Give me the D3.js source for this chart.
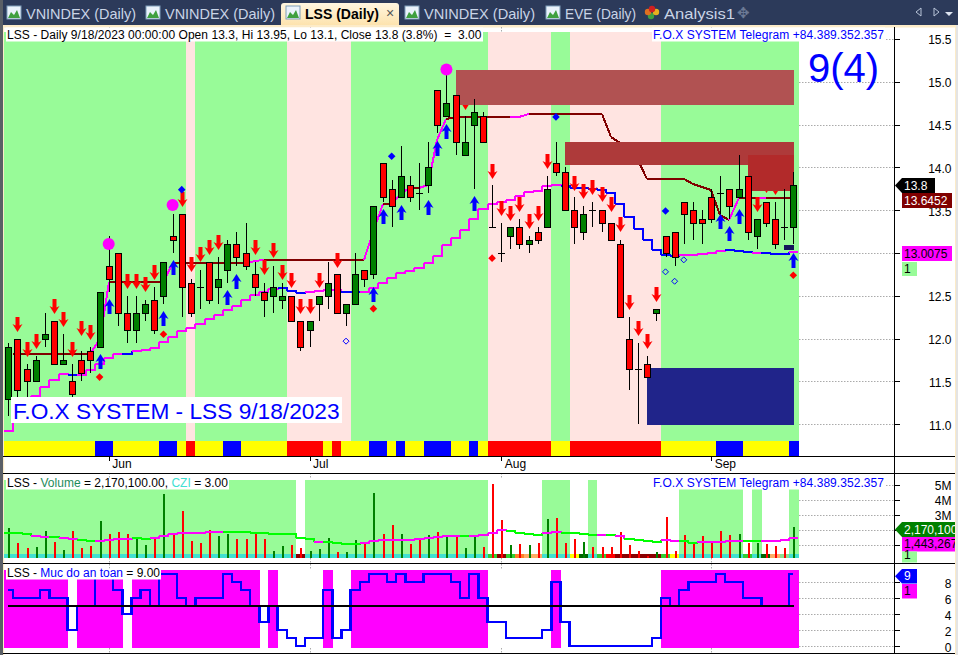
<!DOCTYPE html>
<html><head><meta charset="utf-8">
<script src="https://cdn.jsdelivr.net/npm/d3@7"></script>
<style>html,body{margin:0;padding:0;background:#fff;overflow:hidden}svg{display:block}text{font-family:"Liberation Sans",Arial,sans-serif}</style>
</head><body><svg id="c" width="958" height="655"></svg>
<script>
const symbol="LSS";
const opens=[11.3,12.0,11.65,11.5,12.0,12.2,11.7,11.5,11.75,11.85,11.9,12.85,13.0,12.3,12.1,12.3,12.45,12.5,13.2,13.45,12.65,12.6,12.9,12.6,12.8,13.1,13.0,12.75,12.55,12.5,12.45,12.5,12.2,12.1,12.4,12.5,12.75,12.3,12.4,12.8,12.75,14.05,13.75,13.65,13.8,13.7,13.8,14.9,14.6,14.85,14.15,14.5,14.6,13.3,13.0,13.2,13.3,13.1,13.25,13.3,14.05,13.95,13.5,13.25,13.5,13.5,13.35,13.1,12.0,11.65,11.7,12.3,13.2,13.25,13.6,13.5,13.4,13.65,13.7,13.75,13.65,13.9,13.2,13.6,13.4,13.3,13.3];
const highs=[11.95,12.0,11.7,11.8,12.3,12.2,12.05,11.7,11.85,11.9,12.55,13.2,13.0,12.5,12.5,12.45,12.6,12.9,13.45,13.45,12.7,12.8,12.9,12.95,13.15,13.25,13.35,12.9,12.65,12.85,12.65,12.5,12.2,12.2,12.5,12.9,12.75,12.4,13.0,12.8,13.55,14.05,13.85,14.25,13.9,14.05,14.3,14.9,15.15,14.85,14.6,14.8,14.65,13.8,13.35,13.3,13.4,13.2,13.3,13.9,14.3,14.0,13.65,13.55,13.6,13.5,13.35,13.15,12.25,11.95,11.8,12.35,13.2,13.25,13.6,13.6,13.5,13.75,13.9,13.75,14.15,13.9,13.4,13.6,13.6,13.75,13.95];
const lows=[11.1,11.3,11.3,11.5,11.9,11.7,11.7,11.3,11.5,11.6,11.9,12.55,12.15,11.95,11.95,12.2,12.05,12.4,13.0,12.25,12.25,12.35,12.4,12.4,12.65,12.85,12.8,12.5,12.25,12.3,12.35,12.2,11.85,11.9,12.2,12.35,12.3,12.15,12.4,12.6,12.7,13.6,13.3,13.65,13.6,13.5,13.7,14.4,14.6,14.15,14.15,13.75,14.3,13.3,12.9,13.05,13.05,13.0,13.1,13.3,13.9,13.5,13.1,13.15,13.3,13.25,13.15,12.25,11.4,11.0,11.55,12.2,12.95,12.85,13.1,13.15,13.1,13.35,13.45,13.4,13.65,13.15,13.05,13.3,13.05,13.15,13.1];
const closes=[11.9,11.4,11.5,11.75,12.05,11.7,11.75,11.35,11.6,11.75,12.55,12.7,12.3,12.1,12.3,12.4,12.1,12.9,13.15,12.6,12.3,12.6,12.45,12.7,13.1,12.95,12.85,12.6,12.45,12.6,12.5,12.2,11.9,12.2,12.5,12.65,12.3,12.4,12.75,12.7,13.55,13.65,13.55,13.9,13.65,13.7,14.0,14.5,14.75,14.3,14.3,14.65,14.3,13.3,13.0,13.3,13.1,13.15,13.15,13.75,13.95,13.5,13.3,13.45,13.5,13.35,13.15,12.25,11.65,11.65,11.55,12.35,13.0,12.95,13.45,13.35,13.35,13.4,13.7,13.55,13.75,13.25,13.4,13.35,13.1,13.3,13.8];
const upperLine=[null,11.82,11.82,11.82,11.82,11.82,11.82,11.82,11.82,11.82,12.0,12.66,12.66,12.66,12.66,12.66,12.66,12.66,12.88,12.88,12.88,12.88,12.88,12.88,12.88,12.88,12.88,12.91,12.92,12.92,12.92,12.92,12.92,12.92,12.92,12.92,12.92,12.92,12.92,12.92,13.25,13.57,13.57,13.70,13.76,13.76,13.79,14.32,14.57,14.59,14.59,14.59,14.59,14.59,14.59,14.59,14.59,14.62,14.62,14.62,14.62,14.62,14.62,14.62,14.62,14.62,14.35,14.29,14.2,14.09,13.86,13.86,13.86,13.86,13.86,13.81,13.775,13.74,13.44,13.39,13.64,13.64,13.64,13.64,13.64,13.64,13.6452];
const upperRising=[9,10,17,26,27,39,40,42,43,45,46,47,55,56,79,82];
const lowerLine=[10.92,11.17,11.28,11.33,11.44,11.52,11.59,11.575,11.58,11.63,11.70,11.77,11.82,11.82,11.85,11.87,11.89,11.96,12.02,12.09,12.12,12.17,12.23,12.27,12.33,12.38,12.45,12.51,12.55,12.58,12.59,12.56,12.53,12.545,12.56,12.57,12.57,12.55,12.54,12.54,12.59,12.65,12.71,12.77,12.79,12.82,12.88,12.97,13.09,13.18,13.27,13.40,13.51,13.57,13.60,13.62,13.67,13.71,13.73,13.78,13.80,13.78,13.76,13.76,13.75,13.74,13.70,13.57,13.42,13.28,13.15,13.04,12.98,12.96,12.98,12.98,12.99,13.0,13.02,13.03,13.02,13.01,13.0,13.0,12.985,12.985,13.0075];
const lowerFalling=[7,13,30,31,32,37,38,61,62,63,64,65,66,67,68,69,70,71,72,73,79,80,81,83,84,85];
const redArrowDays=[1,2,3,5,6,7,8,9,13,14,15,16,19,20,21,22,23,27,28,29,30,31,32,33,34,36,50,53,54,55,56,57,58,59,62,63,64,65,66,67,68,69,70,71,82,83,84,85];
const redArrowTips=[12.08,11.79,11.88,12.29,12.14,11.79,12.03,11.98,12.58,12.58,12.54,12.69,13.54,12.78,12.89,12.98,13.04,12.98,12.74,12.94,12.69,12.59,12.29,12.29,12.59,12.82,14.67,13.87,13.43,13.37,13.48,13.28,13.37,13.98,13.72,13.63,13.68,13.59,13.48,13.24,12.33,12.03,11.88,12.43,13.48,13.70,13.68,13.72];
const blueArrowDays=[10,11,17,18,24,25,40,41,43,46,47,48,51,78,79,80,86];
const blueArrowTips=[11.82,12.46,12.32,12.92,12.57,12.76,12.6,13.51,13.56,13.62,14.31,14.51,13.67,13.46,13.31,13.51,13.0];
const circleDays=[11,18,48];
const circlePrices=[13.105,13.56,15.145];
const redDiamondDays=[10,17,40,53,86];
const redDiamondPrices=[11.55,12.05,12.35,12.94,12.74];
const blueDiamondDays=[19,42,60,72];
const blueDiamondPrices=[13.74,14.13,14.59,13.49];
const openDiamondDays=[37,72,73,74];
const openDiamondPrices=[11.97,12.78,12.67,12.92];
const zoneStart=[49,61,81,70,85];
const zoneTop=[15.14,14.30,14.145,11.66,13.09];
const zoneBottom=[14.73,14.03,13.73,10.99,13.035];
const zoneColor=["#B15252","#AE3A3A","#B22A2A","#20248A","#14145A"];
const pinkDays=[20,31,32,33,34,35,36,37,53,54,55,56,57,58,59,62,63,64,65,66,67,68,69,70,71];
const stripBlue=[10,11,17,18,24,25,40,41,43,46,47,48,51,78,79,80,86];
const stripRed=[20,31,32,33,34,36,53,54,55,56,57,58,59,62,63,64,65,66,67,68,69,70,71];
const volumes=[2.15,1.13,.8,.87,1.93,1.2,.67,1.93,.8,.93,2.6,1.73,1.87,1.73,1.53,1.0,1.53,4.4,1.73,3.27,1.27,1.13,2.0,1.6,1.73,1.4,1.4,1.73,1.4,.6,.93,1.0,.8,.6,.73,1.47,.53,.53,1.33,1.07,4.47,1.73,2.33,1.73,1.07,1.4,1.67,1.87,1.67,1.67,.8,1.67,.87,5.07,2.67,1.0,1.07,1.0,1.13,2.73,2.8,1.13,1.4,1.2,.87,.87,.87,1.87,1.0,.6,.27,.53,2.87,.6,1.67,1.13,1.6,1.13,1.93,1.67,1.73,1.13,1.13,1.07,.93,.8,2.17];
const volumeColorUp=[0,3,4,6,10,14,15,17,23,24,29,30,33,34,35,37,38,40,43,46,48,50,51,55,57,59,63,71,80,82,86];
const volumeAvg=[1.82,1.80,1.71,1.58,1.53,1.53,1.44,1.42,1.33,1.29,1.29,1.36,1.40,1.42,1.44,1.42,1.44,1.62,1.73,1.80,1.82,1.82,1.87,1.87,1.87,1.87,1.84,1.82,1.80,1.76,1.76,1.76,1.47,1.42,1.22,1.20,1.13,1.07,1.07,1.11,1.29,1.31,1.33,1.33,1.33,1.42,1.49,1.53,1.60,1.60,1.60,1.62,1.67,1.82,2.02,1.91,1.82,1.71,1.69,1.78,1.84,1.82,1.78,1.73,1.69,1.69,1.67,1.60,1.42,1.31,1.24,1.20,1.31,1.29,1.24,1.16,1.18,1.18,1.20,1.27,1.29,1.29,1.29,1.29,1.29,1.31,1.44];
const volumeAvgRising=[3,4,6,7,10,11,12,13,16,17,18,19,20,21,22,23,34,39,40,41,42,43,44,45,46,47,48,49,51,52,53,54,59,60,65,67,72,73,76,77,78,79,80,83,84,85,86];
const volumeWhiteDays=[32,53,54,55,56,57,58,62,63,65,66,67,68,69,70,71,72,73,81,83,84,85];
const czi={"#8B0000":[32,54,67,68,69,70,71],"#32CD32":[53,55,65,72,81],"#FF7F27":[56],"#FFAD66":[57,58,84],"#FFFF00":[62,73],"#006400":[63,83],"#FF0000":[66],"#8FDF8F":[85]};
const safety=[7,6,6,6,7,6,6,2,5,5,9,9,7,4,6,7,5,9,9,6,5,6,6,6,9,8,7,5,3,5,2,1,0,1,1,7,1,2,7,8,9,9,8,9,8,8,9,9,9,8,6,9,6,3,3,1,1,1,1,2,8,3,0,0,0,0,0,0,0,0,0,1,6,5,7,8,8,8,9,8,8,6,6,5,5,5,9];
const priceTicks=[15.5,15,14.5,14,13.5,13,12.5,12,11.5,11];
const priceTickLabels=["15.5","15.0","14.5","14.0","13.5","","12.5","12.0","11.5","11.0"];
const volumeTicks=[5,4,3,2,1];
const volumeTickLabels=["5M","4M","3M","",""];
const safetyTicks=[8,6,4,2,0];
const monthDays=[11,33,54,77];
const monthNames=["Jun","Jul","Aug","Sep"];
const tabNames=["VNINDEX (Daily)","VNINDEX (Daily)","LSS (Daily)","VNINDEX (Daily)","EVE (Daily)","Analysis1"];
const tabTextX=[26,165,305,424,565,664];
const tabTextW=[110,110,74,111,71,71];

const svg=d3.select("#c");
const n=closes.length;
const x=d3.scaleLinear().domain([0,86]).range([8.3,793.3]);
const yP=d3.scaleLinear().domain([13,15.5]).range([253,39]);
const yV=d3.scaleLinear().domain([0,5]).range([560,485]);
const yS=d3.scaleLinear().domain([0,8]).range([646.3,582.3]);
const RIGHT=894,PLOTR=799,BLUE="#0000FF",GRID="#aaaaaa";
const crisp=g=>g.attr("shape-rendering","crispEdges");
const idx=d3.range(n);
const R=v=>Math.round(v);

// window chrome
svg.append("rect").attr("width",958).attr("height",655).attr("fill","#fff");
svg.append("rect").attr("width",958).attr("height",25).attr("fill","#2C3A5A");
svg.append("rect").attr("y",25).attr("width",958).attr("height",2.5).attr("fill","#FCEBC8");
svg.append("rect").attr("width",3).attr("height",655).attr("fill","#5A5F66");
svg.append("rect").attr("x",3).attr("y",25).attr("width",1.2).attr("height",630).attr("fill","#FCEBC8");
const grad=svg.append("defs").append("linearGradient").attr("id","tab").attr("x2",0).attr("y2",1);
grad.append("stop").attr("offset",0).attr("stop-color","#FFF6E0");
grad.append("stop").attr("offset",1).attr("stop-color","#FDE3AE");
svg.append("path").attr("d","M281,25V6Q281,3 284,3H396Q399,3 399,6V25Z").attr("fill","url(#tab)");
tabNames.forEach((t,i)=>{
  const active=i===2;
  svg.append("text").attr("x",tabTextX[i]).attr("y",19).attr("font-size",14.5).attr("font-weight",active?"bold":"normal")
    .attr("textLength",tabTextW[i]).attr("lengthAdjust","spacingAndGlyphs")
    .attr("fill",active?"#000":"#C9D4E6").text(t);
  if(i<5){
    const ix=tabTextX[i]-19;
    svg.append("rect").attr("x",ix).attr("y",6).attr("width",14).attr("height",13).attr("fill","#EAF2FB").attr("stroke","#7F9DB9");
    svg.append("path").attr("d",`M${ix+1},18l3,-6l3,3l3,-5l3,8z`).attr("fill","#3FA03F");
  }
});
svg.append("text").attr("x",386).attr("y",18).attr("font-size",14).attr("fill","#555").text("×");
[["#40A040",651,16],["#E07020",648,12],["#E8B020",656,12],["#D02020",652,9]].forEach(d=>
  svg.append("circle").attr("cx",d[1]).attr("cy",d[2]).attr("r",3.2).attr("fill",d[0]));
svg.append("text").attr("x",737).attr("y",18).attr("font-size",15).attr("fill","#6C7A96").text("✥");
svg.append("path").attr("d","M921,8l-5,4l5,4zM934,8l5,4l-5,4z").attr("fill","none").attr("stroke","#B8C4D8");
svg.append("path").attr("d","M945,12h8l-4,4z").attr("fill","#DDE4F0");

// gridlines
const hDots=(ys,scale)=>svg.append("g").selectAll("line").data(ys).join("line")
  .attr("x1",PLOTR).attr("x2",RIGHT).attr("y1",d=>R(scale(d))+.5).attr("y2",d=>R(scale(d))+.5)
  .attr("stroke",GRID).attr("stroke-dasharray","1.5 1.5");
hDots(priceTicks,yP);hDots(volumeTicks,yV);hDots(safetyTicks,yS);
[[27,32],[473,479],[558,570],[648,653]].forEach(r=>
  svg.append("g").selectAll("line").data(monthDays).join("line")
   .attr("x1",d=>R(x(d))+.5).attr("x2",d=>R(x(d))+.5).attr("y1",r[0]).attr("y2",r[1])
   .attr("stroke",GRID).attr("stroke-dasharray","1.5 1.5"));

const band=g=>g.attr("x",d=>x(d-.5)).attr("width",d=>x(1)-x(0)+(d===86?1.2:.3));
// main bands + strip
crisp(svg.append("g")).selectAll("rect").data(idx).join("rect").call(band)
  .attr("y",32).attr("height",409).attr("fill",d=>pinkDays.includes(d)?"#FFE4E1":"#98FB98");
crisp(svg.append("g")).selectAll("rect").data(idx).join("rect").call(band)
  .attr("y",441).attr("height",14.5).attr("fill",d=>stripBlue.includes(d)?"#0000FF":stripRed.includes(d)?"#FF0000":"#FFFF00");

const line=d3.line().x(d=>R(d[0])).y(d=>R(d[1]));
// stepped lower line
const lowG=crisp(svg.append("g")).attr("fill","none").attr("stroke-width",2);
idx.forEach(i=>{
  const pts=[[x(i-.5),yP(lowerLine[i])],[x(i+.5),yP(lowerLine[i])]];
  if(i<n-1)pts.push([x(i+.5),yP(lowerLine[i+1])]);
  lowG.append("path").attr("d",line(pts)).attr("stroke",lowerFalling.includes(i)?BLUE:"#FF00FF");
});
// upper line
const upG=crisp(svg.append("g")).attr("fill","none").attr("stroke-width",2);
upG.append("path").attr("d",line([[x(.5),yP(upperLine[1])],[x(1),yP(upperLine[1])]])).attr("stroke","#800000");
d3.range(1,n-1).forEach(i=>{
  upG.append("path").attr("d",line([[x(i),yP(upperLine[i])],[x(i+1),yP(upperLine[i+1])]]))
    .attr("stroke",upperRising.includes(i)?"#FF00FF":"#800000");
});

// arrows
const arrow=(g,days,tips,color,dir)=>g.selectAll("path").data(days).join("path")
  .attr("transform",(d,i)=>`translate(${R(x(d))+.5},${R(yP(tips[i]))})`)
  .attr("fill",color).attr("d",dir>0?"M0,0L-5,-8L-2,-6.5L-2,-15L2,-15L2,-6.5L5,-8Z":"M0,0L-5,8L-2,6.5L-2,15L2,15L2,6.5L5,8Z");
arrow(svg.append("g"),redArrowDays,redArrowTips,"#FF0000",1);
arrow(svg.append("g"),blueArrowDays,blueArrowTips,"#0000FF",-1);

// zones
crisp(svg.append("g")).selectAll("rect").data(zoneStart).join("rect")
  .attr("x",d=>x(d)).attr("width",d=>x(86)+.7-x(d))
  .attr("y",(d,i)=>yP(zoneTop[i])).attr("height",(d,i)=>yP(zoneBottom[i])-yP(zoneTop[i]))
  .attr("fill",(d,i)=>zoneColor[i]);

// candles
const cg=crisp(svg.append("g"));
cg.selectAll("line.w").data(idx).join("line").attr("class","w")
  .attr("x1",d=>R(x(d))+.5).attr("x2",d=>R(x(d))+.5)
  .attr("y1",d=>R(yP(highs[d]))).attr("y2",d=>R(yP(lows[d]))).attr("stroke","#000");
cg.selectAll("rect").data(idx.filter(i=>opens[i]!==closes[i])).join("rect")
  .attr("x",d=>R(x(d))-2.5).attr("width",6)
  .attr("y",d=>R(yP(Math.max(opens[d],closes[d])))+.5)
  .attr("height",d=>Math.max(1,R(yP(Math.min(opens[d],closes[d])))-R(yP(Math.max(opens[d],closes[d])))))
  .attr("fill",d=>closes[d]>opens[d]?"#008000":"#FF0000").attr("stroke","#000");
cg.selectAll("line.d").data(idx.filter(i=>opens[i]===closes[i])).join("line").attr("class","d")
  .attr("x1",d=>R(x(d))-3).attr("x2",d=>R(x(d))+4)
  .attr("y1",d=>R(yP(closes[d]))+.5).attr("y2",d=>R(yP(closes[d]))+.5).attr("stroke","#000");

// markers
svg.append("g").selectAll("circle").data(circleDays).join("circle")
  .attr("cx",d=>x(d)).attr("cy",(d,i)=>yP(circlePrices[i])).attr("r",6).attr("fill","#FF00FF");
const diamond=(g,days,prices,fill,stroke,r)=>g.selectAll("path").data(days).join("path")
  .attr("transform",(d,i)=>`translate(${x(d)},${yP(prices[i])})`)
  .attr("d",`M0,${-r}L${r},0L0,${r}L${-r},0Z`).attr("fill",fill).attr("stroke",stroke);
diamond(svg.append("g"),redDiamondDays,redDiamondPrices,"#FF0000","none",3.8);
diamond(svg.append("g"),blueDiamondDays,blueDiamondPrices,"#0000FF","none",3.8);
diamond(svg.append("g"),openDiamondDays,openDiamondPrices,"none","#0000FF",3);

// volume pane
crisp(svg.append("g")).selectAll("rect").data(idx.filter(i=>!volumeWhiteDays.includes(i))).join("rect").call(band)
  .attr("y",480).attr("height",78).attr("fill","#98FB98");
const cziColor=i=>{for(const c in czi)if(czi[c].includes(i))return c;return "#40E0D0"};
crisp(svg.append("g")).selectAll("rect").data(idx).join("rect").call(band)
  .attr("y",554).attr("height",4).attr("fill",cziColor);
crisp(svg.append("g")).selectAll("rect").data(idx).join("rect")
  .attr("x",d=>R(x(d))-.5).attr("width",2).attr("y",d=>yV(volumes[d])).attr("height",d=>558-yV(volumes[d]))
  .attr("fill",d=>volumeColorUp.includes(d)?"#008000":"#FF0000");
const vaG=crisp(svg.append("g")).attr("fill","none").attr("stroke-width",2);
idx.forEach(i=>{
  const pts=[[x(i-.5),yV(volumeAvg[i])],[x(i+.5),yV(volumeAvg[i])]];
  if(i<n-1)pts.push([x(i+.5),yV(volumeAvg[i+1])]);
  vaG.append("path").attr("d",line(pts)).attr("stroke",volumeAvgRising.includes(i)?"#FF00FF":"#00FF00");
});

// safety pane
crisp(svg.append("g")).selectAll("rect").data(idx.filter(i=>safety[i]>=5)).join("rect").call(band)
  .attr("y",570).attr("height",78).attr("fill","#FF00FF");
crisp(svg.append("path")).attr("fill","none").attr("stroke",BLUE).attr("stroke-width",2.4)
  .attr("d",d3.line().x(d=>x(d)).y(d=>R(yS(safety[d]))).curve(d3.curveStep)(idx));
crisp(svg.append("line")).attr("x1",x(0)).attr("x2",x(86)+1).attr("y1",R(yS(5))).attr("y2",R(yS(5))).attr("stroke","#000").attr("stroke-width",2);

// labels with white backing
const label=(x0,base,w,parts,tw,h=14)=>{
  svg.append("rect").attr("x",x0-1).attr("y",base-h+3).attr("width",w).attr("height",h).attr("fill","#fff");
  const t=svg.append("text").attr("x",x0).attr("y",base).attr("font-size",12).attr("xml:space","preserve").attr("textLength",tw).attr("lengthAdjust","spacing");
  parts.forEach(p=>t.append("tspan").attr("fill",p[1]).text(p[0]));
};
label(7,38.5,477,[[`${symbol} - Daily 9/18/2023 00:00:00 Open 13.3, Hi 13.95, Lo 13.1, Close 13.8 (3.8%)  =  3.00`,"#000"]],474.5);
label(653,38.5,233,[["F.O.X SYSTEM Telegram +84.389.352.357",BLUE]],231);
label(653,486.5,233,[["F.O.X SYSTEM Telegram +84.389.352.357",BLUE]],231);
label(7,486.5,223,[[`${symbol} - `,"#000"],["Volume","#1E8C5A"],[" = 2,170,100.00, ","#000"],["CZI","#40E0D0"],[" = 3.00","#000"]],221,11);
label(7,576.5,155,[[`${symbol} - `,"#000"],["Muc do an toan",BLUE],[" = 9.00","#000"]],153,11);
svg.append("rect").attr("x",11).attr("y",397).attr("width",331).attr("height",26).attr("fill","#fff");
svg.append("text").attr("x",13).attr("y",419).attr("font-size",22.7).attr("fill",BLUE).text(`F.O.X SYSTEM - ${symbol} 9/18/2023`);
svg.append("text").attr("x",808).attr("y",82).attr("font-size",40).attr("fill",BLUE).text("9(4)");

// axes
const styleAxis=g=>{g.select(".domain").remove();g.selectAll("line").attr("shape-rendering","crispEdges");g.selectAll("text").attr("font-size",12).attr("fill","#000").attr("font-family","Liberation Sans");};
const rightAxis=(scale,vals,fmt)=>{
  const g=svg.append("g").attr("transform",`translate(${RIGHT+.5},0)`)
   .call(d3.axisRight(scale).tickValues(vals).tickFormat(fmt).tickSize(5).tickPadding(0));
  styleAxis(g);g.selectAll("text").attr("text-anchor","end").attr("x",57).attr("y",1);
};
rightAxis(yP,priceTicks,(d,i)=>priceTickLabels[i]);
rightAxis(yV,volumeTicks,(d,i)=>volumeTickLabels[i]);
rightAxis(yS,safetyTicks,d3.format("d"));
const dg=svg.append("g").attr("transform","translate(0,456.5)")
  .call(d3.axisBottom(x).tickValues(monthDays).tickFormat((d,i)=>monthNames[i]).tickSize(4));
styleAxis(dg);dg.selectAll("text").attr("text-anchor","start").attr("x",3).attr("y",3);

// frame
[456,473,563,653].forEach(y=>crisp(svg.append("line")).attr("x1",3).attr("x2",955).attr("y1",y+.5).attr("y2",y+.5).attr("stroke","#000"));
crisp(svg.append("line")).attr("x1",RIGHT+.5).attr("x2",RIGHT+.5).attr("y1",27).attr("y2",653).attr("stroke","#000");

// value tags
const tag=(yTop,h,text,fill,color,w,arrowTip)=>{
  const x0=902,x1=Math.min(x0+w,956);
  const p=d3.path();
  if(arrowTip){p.moveTo(RIGHT+1,yTop+h/2);p.lineTo(x0,yTop);}else p.moveTo(x0,yTop);
  p.lineTo(x1,yTop);p.lineTo(x1,yTop+h);p.lineTo(x0,yTop+h);p.closePath();
  svg.append("path").attr("d",p.toString()).attr("fill",fill);
  if(text)svg.append("text").attr("x",x0+2).attr("y",yTop+h-3.5).attr("font-size",12).attr("fill",color).text(text);
};
tag(178,15,"13.8","#000","#fff",33,true);
tag(193,15,"13.6452","#800000","#fff",50,false);
tag(246,15,"13.0075","#FF00FF","#000",50,false);
tag(262,14,"1","#98FB98","#000",15,false);
tag(522,15,"2,170,100","#008000","#fff",60,true);
tag(537,14.5,"1,443,267","#FF00FF","#000",60,false);
tag(551.5,11,"1","#98FB98","#000",15,false);
tag(569,14.5,"9","#0000FF","#fff",15,true);
tag(584,14.5,"1","#FF00FF","#000",15,false);
svg.append("rect").attr("x",955).attr("y",25).attr("width",3).attr("height",630).attr("fill","#E4E4E4");
svg.append("rect").attr("x",955).attr("y",25).attr("width",1).attr("height",630).attr("fill","#FCEBC8");
</script></body></html>
